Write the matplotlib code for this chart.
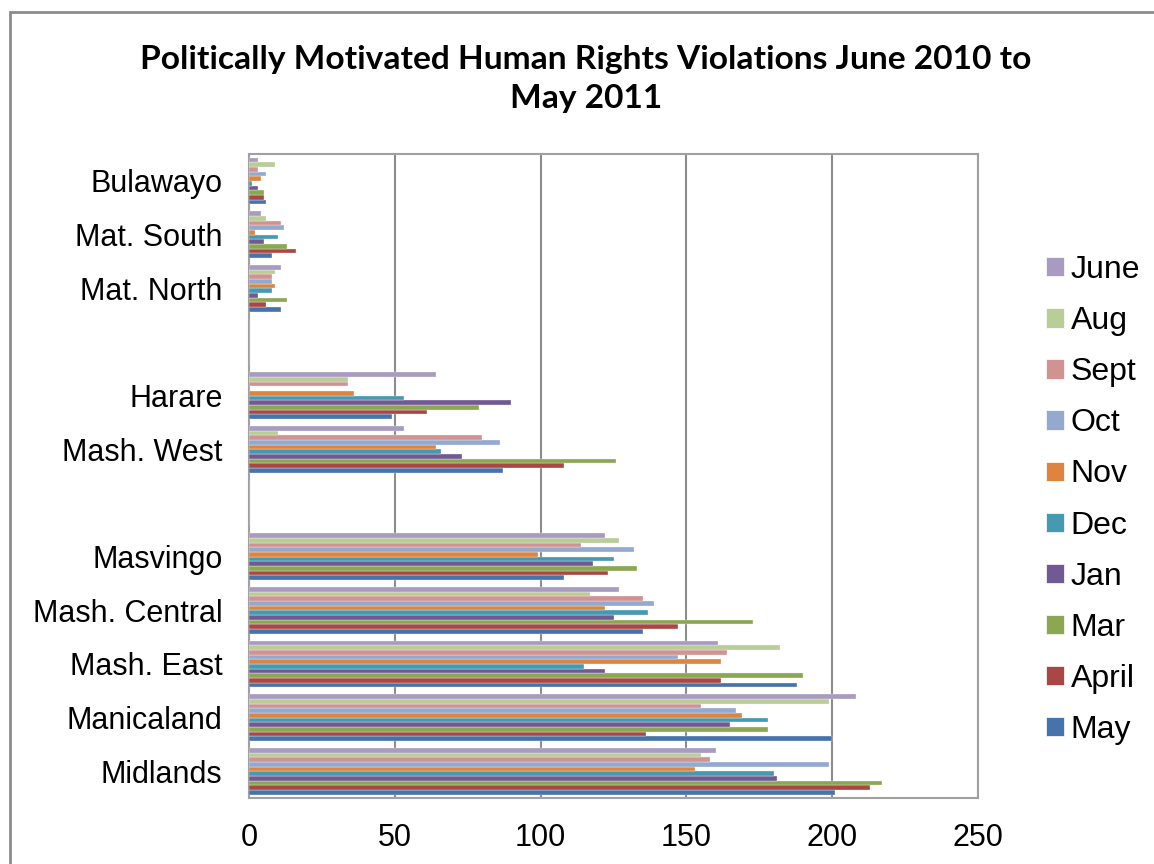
import matplotlib
matplotlib.use("Agg")
import matplotlib.pyplot as plt
from matplotlib.patches import Rectangle, Patch
import numpy as np

# categories from bottom to top, blanks are the empty gap rows
regions = ["Midlands", "Manicaland", "Mash. East", "Mash. Central", "Masvingo", "",
           "Mash. West", "Harare", "", "Mat. North", "Mat. South", "Bulawayo"]

# series in plotting order (bottom bar of each group first)
months = ["May", "April", "Mar", "Jan", "Dec", "Nov", "Oct", "Sept", "Aug", "June"]

may   = [201, 200, 188, 135, 108, 0, 87, 49, 0, 11, 8, 6]
april = [213, 136, 162, 147, 123, 0, 108, 61, 0, 6, 16, 5]
mar   = [217, 178, 190, 173, 133, 0, 126, 79, 0, 13, 13, 5]
jan   = [181, 165, 122, 125, 118, 0, 73, 90, 0, 3, 5, 3]
dec   = [180, 178, 115, 137, 125, 0, 66, 53, 0, 8, 10, 1]
nov   = [153, 169, 162, 122, 99, 0, 64, 36, 0, 9, 2, 4]
octo  = [199, 167, 147, 139, 132, 0, 86, 0, 0, 8, 12, 6]
sept  = [158, 155, 164, 135, 114, 0, 80, 34, 0, 8, 11, 3]
aug   = [155, 199, 182, 117, 127, 0, 10, 34, 0, 9, 6, 9]
june  = [160, 208, 161, 127, 122, 0, 53, 64, 0, 11, 4, 3]

series = [may, april, mar, jan, dec, nov, octo, sept, aug, june]
colors = ["#4673AB", "#AA4644", "#8BA752", "#715A93", "#4599B1",
          "#DD8540", "#94A9D0", "#D19392", "#B9CD96", "#A89AC0"]

fig = plt.figure(figsize=(11.54, 8.64), dpi=100)
fig.patch.set_facecolor("white")

# outer chart border (runs off the right and bottom edges)
fig.patches.append(Rectangle((10 / 1154, -0.05), 1.2, 1 - 12 / 864 + 0.05,
                             transform=fig.transFigure, fill=False,
                             edgecolor="#8c8c8c", linewidth=2))

ax = fig.add_axes([249 / 1154, 1 - 798 / 864, (978 - 249) / 1154, (798 - 154) / 864])

n = len(series)
h = 1 / 11.5
y = np.arange(len(regions))
for i, (vals, c) in enumerate(zip(series, colors)):
    ax.barh(y + (i - (n - 1) / 2) * h, vals, height=h, color=c,
            edgecolor="#f4f4f4", linewidth=0.25, zorder=3)

ax.set_xlim(0, 250)
ax.set_ylim(-0.5, len(regions) - 0.5)
ax.set_xticks([0, 50, 100, 150, 200, 250])
ax.set_yticks(y)
ax.set_yticklabels(regions)
ax.grid(axis="x", color="#8c8c8c", linewidth=1.5, zorder=0)
ax.tick_params(axis="both", length=0, labelsize=22, labelcolor="black")
ax.tick_params(axis="y", pad=19)
ax.tick_params(axis="x", pad=18)
for lab in ax.get_xticklabels() + ax.get_yticklabels():
    lab.set_family("Liberation Sans")
for sp in ax.spines.values():
    sp.set_color("#a0a0a0")
    sp.set_linewidth(1.5)

fig.text(586 / 1154, 1 - 79 / 864,
         "Politically Motivated Human Rights Violations June 2010 to\nMay 2011",
         ha="center", va="center", fontsize=24.1, fontweight="bold",
         family="Lato", linespacing=1.4)

handles = [Patch(facecolor=c, edgecolor="white", linewidth=0.5) for c in colors][::-1]
fig.legend(handles, months[::-1], loc="center left",
           bbox_to_anchor=(1030 / 1154, 1 - 500 / 864), frameon=False,
           prop={"family": "Liberation Sans", "size": 23},
           handlelength=0.55, handleheight=0.55, handletextpad=0.22,
           labelspacing=0.66, borderpad=0)

fig.savefig("out.png", dpi=100)
